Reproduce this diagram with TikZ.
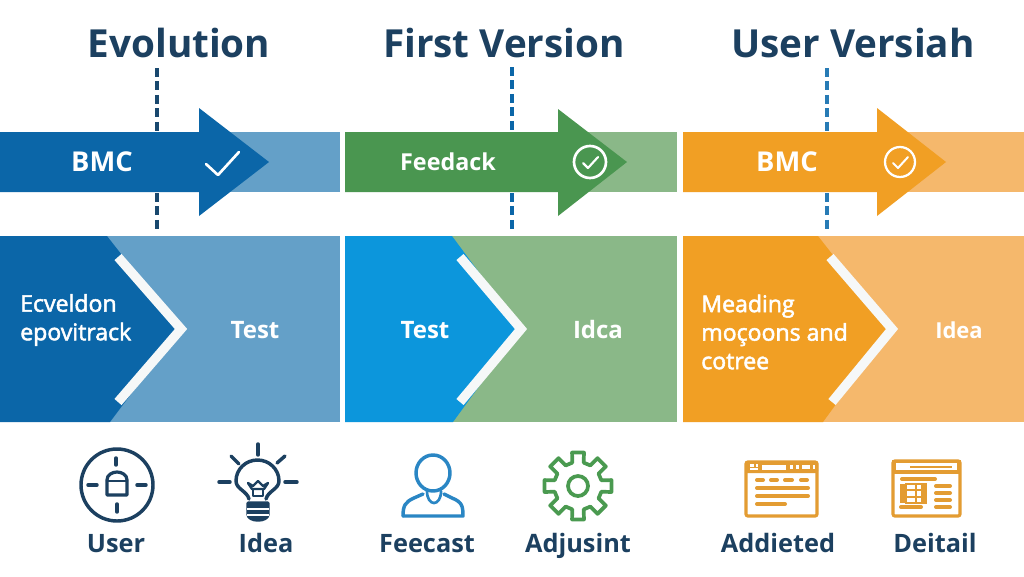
\documentclass[tikz,border=0pt]{standalone}
\usepackage{fontspec}
\setmainfont{Open Sans}
\newfontfamily\medfont[FakeBold=2.2]{Open Sans}
\definecolor{navy}{HTML}{1C4060}
\definecolor{bluedark}{HTML}{0B66A8}
\definecolor{bluelight}{HTML}{64A0C8}
\definecolor{bluebright}{HTML}{0C96DC}
\definecolor{greendark}{HTML}{4A9650}
\definecolor{greenlight}{HTML}{8AB888}
\definecolor{orangedark}{HTML}{F19F24}
\definecolor{orangelight}{HTML}{F5B86C}
\definecolor{iconblue}{HTML}{2A86C4}
\definecolor{icongreen}{HTML}{4A9A50}
\definecolor{iconorange}{HTML}{E39C32}
\definecolor{paper}{HTML}{F6F8F8}
\tikzset{
  px/.style={x=0.75pt,y=-0.75pt},
  title/.style={text=navy,font=\fontsize{29}{32}\selectfont\bfseries,inner sep=0pt,anchor=base},
  bandtext/.style={text=white,font=\fontsize{20.5}{24}\selectfont\bfseries,inner sep=0pt,anchor=base},
  paneltext/.style={text=white,font=\fontsize{18}{21}\selectfont\bfseries,inner sep=0pt,anchor=base},
  paneltextl/.style={text=white,font=\fontsize{17.3}{21.4}\selectfont\medfont,inner sep=0pt,anchor=west,align=left},
  caption/.style={text=navy,font=\fontsize{19}{22}\selectfont\bfseries,inner sep=0pt,anchor=base},
  guide/.style={line width=3pt,dash pattern=on 6.5pt off 3.6pt},
  chevron/.style={draw=paper,line width=7pt,miter limit=10},
  iconline/.style={draw=navy,line width=2.6pt,line cap=round,line join=round},
  tick/.style={draw=white,line width=2pt,line cap=round,line join=round},
}
\begin{document}
\begin{tikzpicture}[px]
\useasboundingbox (0,0) rectangle (1024,576);
\fill[white] (0,0) rectangle (1024,576);

% titles
\node[title] (t1) at (179,57) {Evolution};
\node[title] (t2) at (504,57) {First Version};
\node[title] (t3) at (853,57) {User Versiah};

% guides
\draw[guide,draw=navy!80!bluedark] (157,68) -- (157,131);
\draw[guide,draw=navy!80!bluedark] (157,193) -- (157,230);
\draw[guide,draw=bluedark] (512,67) -- (512,131);
\draw[guide,draw=bluedark] (512,193) -- (512,230);
\draw[guide,draw=iconblue!85!navy] (827,68) -- (827,131);
\draw[guide,draw=iconblue!85!navy] (827,193) -- (827,230);

% bands
\fill[bluelight] (0,132) rectangle (340,192);
\fill[bluedark] (0,132) -- (199,132) -- (199,108) -- (269,162) -- (199,216) -- (199,192) -- (0,192) -- cycle;
\fill[greenlight] (345,132) rectangle (677,192);
\fill[greendark] (345,132) -- (558,132) -- (558,109) -- (627,162) -- (558,216) -- (558,192) -- (345,192) -- cycle;
\fill[orangelight] (683,132) rectangle (1024,192);
\fill[orangedark] (683,132) -- (877,132) -- (877,108) -- (946,162) -- (877,216) -- (877,192) -- (683,192) -- cycle;

\node[bandtext] (b1) at (102,171) {BMC};
\node[bandtext,font=\fontsize{17.5}{20}\selectfont\bfseries] (b2) at (448,170) {Feedack};
\node[bandtext] (b3) at (787,171) {BMC};

% checks
\draw[tick] (206,164) -- (218,175) -- (239,152);
\draw[tick] (590,162) circle (16);
\draw[tick,line width=1.6pt] (583,163) -- (588,168) -- (598,157);
\draw[tick,line width=1.7pt] (900,162) circle (15);
\draw[tick,line width=1.5pt] (893,163) -- (898,168) -- (908,157);

% panels
\fill[bluelight] (0,236) rectangle (340,422);
\fill[bluedark] (0,236) -- (107,236) -- (180,329) -- (110,422) -- (0,422) -- cycle;
\draw[chevron] (118,257) -- (181,329) -- (118,402);

\fill[greenlight] (345,236) rectangle (677,422);
\fill[bluebright] (345,236) -- (452,236) -- (521,329) -- (453,422) -- (345,422) -- cycle;
\draw[chevron] (460,257) -- (521,329) -- (460,402);

\fill[orangelight] (683,236) rectangle (1024,422);
\fill[orangedark] (683,236) -- (818,236) -- (891,329) -- (823,422) -- (683,422) -- cycle;
\draw[chevron] (830,257) -- (892,329) -- (832,402);

\node[paneltextl] (p1) at (20,320) {Ecveldon\\epovitrack};
\node[paneltext] (p2) at (255,338) {Test};
\node[paneltext] (p3) at (425,338) {Test};
\node[paneltext] (p4) at (598,338) {Idca};
\node[paneltextl] (p5) at (701,332) {Meading\\moçoons and\\cotree};
\node[paneltext,font=\fontsize{16.5}{20}\selectfont\bfseries] (p6) at (959,338) {Idea};

% captions
\node[caption] (c1) at (116,552) {User};
\node[caption] (c2) at (266,552) {Idea};
\node[caption] (c3) at (427,552) {Feecast};
\node[caption] (c4) at (578,552) {Adjusint};
\node[caption] (c5) at (778,552) {Addieted};
\node[caption] (c6) at (935,552) {Deitail};

% icon: lock in circle
\draw[iconline] (117,485) circle (36);
\draw[iconline] (116,458) -- (116,465);
\draw[iconline] (117,504) -- (117,512);
\draw[iconline] (88,485) -- (97,485);
\draw[iconline] (137,485) -- (146,485);
\draw[iconline,line width=2.4pt] (107,495) -- (107,480) .. controls (107,475) and (112,472) .. (117,472) .. controls (122,472) and (127,475) .. (127,480) -- (127,495) -- cycle;
\draw[iconline,line width=2pt] (107,481) -- (127,481);

% icon: bulb
\draw[iconline] (249,499) .. controls (247,491) and (236,489) .. (236,481) .. controls (236,469) and (246,460) .. (257.5,460) .. controls (269,460) and (279,469) .. (279,481) .. controls (279,489) and (268,491) .. (266,499);
\draw[iconline,fill=navy] (248,503) -- (268,503) -- (268,514) .. controls (268,522) and (248,522) .. (248,514) -- cycle;
\draw[draw=white,line width=1.4pt] (247,509) -- (269,509);
\draw[draw=white,line width=1.4pt] (247,515) -- (269,515);
\draw[iconline,line width=1.8pt] (248,483) -- (252,489) -- (264,489) -- (268,483) -- (263,486) -- (258,481) -- (253,486) -- cycle;
\draw[iconline,line width=1.8pt] (253,489) -- (253,496) -- (263,496) -- (263,489);
\draw[iconline] (258,444) -- (258,455);
\draw[iconline] (231,456) -- (239,464);
\draw[iconline] (285,456) -- (277,463);
\draw[iconline] (219,482) -- (230,482);
\draw[iconline] (285,482) -- (297,482);

% icon: person
\draw[iconline,draw=iconblue] (433,473) ellipse (17 and 18);
\draw[iconline,draw=iconblue] (403,516) -- (463,516) .. controls (463,506) and (462,502) .. (452,498) -- (444,494);
\draw[iconline,draw=iconblue] (403,516) .. controls (403,506) and (405,502) .. (414,498) -- (423,494);
\draw[iconline,draw=iconblue,line width=2pt] (427,491) .. controls (427,507) and (441,507) .. (441,491);

% icon: gear
\begin{scope}[shift={(578,486)}]
\draw[draw=icongreen,line width=2.8pt,line join=round] (-14:24)
  \foreach \a in {0,45,...,315}{ -- ({\a-14}:24) -- ({\a-10}:34) -- ({\a+10}:34) -- ({\a+14}:24) } -- cycle;
\draw[draw=icongreen,line width=2.8pt] (0,0) circle (10);
\end{scope}

% icon: window 1
\draw[draw=iconorange,line width=2.4pt,rounded corners=1.5pt] (746,462) rectangle (817,516);
\fill[iconorange,rounded corners=1.5pt] (745,461) rectangle (818,473);
\fill[white] (750,464) rectangle (754,466.5);
\fill[white] (756,464) rectangle (758,466.5);
\fill[white] (750,468) rectangle (758,470);
\fill[white] (762,465) rectangle (786,470);
\fill[white] (790,465) rectangle (793,469);
\fill[white] (796,465) rectangle (799,469);
\fill[white] (802,465) rectangle (810,469);
\fill[white] (813,465) rectangle (815,469);
\foreach \xa/\xb in {757/763,771/777,785/792,801/807}{
  \draw[draw=iconorange,line width=3pt,line cap=round] (\xa,480) -- (\xb,480);}
\draw[draw=iconorange,line width=3pt,line cap=round] (757,488) -- (808,488);
\draw[draw=iconorange,line width=3pt,line cap=round] (757,496) -- (808,496);
\draw[draw=iconorange,line width=3pt,line cap=round] (757,504) -- (785,504);

% icon: window 2
\draw[draw=iconorange,line width=2.4pt,rounded corners=1.5pt] (893,461) rectangle (960,516);
\fill[iconorange] (892,460) rectangle (961,474);
\fill[white] (896,463) rectangle (957,470);
\draw[draw=iconorange,line width=1.6pt] (910,467) -- (952,467);
\draw[draw=iconorange,line width=3pt,line cap=round] (902,479) -- (935,479);
\fill[iconorange] (900,484) rectangle (906,503);
\draw[draw=iconorange,line width=1.6pt] (906,484) rectangle (926,503);
\draw[draw=iconorange,line width=1.6pt] (916,484) -- (916,503);
\draw[draw=iconorange,line width=1.6pt] (906,490) -- (926,490);
\draw[draw=iconorange,line width=1.6pt] (906,497) -- (926,497);
\fill[iconorange] (921,484) rectangle (926,503);
\draw[draw=iconorange,line width=3pt,line cap=round] (901,507) -- (921,507);
\foreach \yy in {486,493,500,507}{\draw[draw=iconorange,line width=3pt,line cap=round] (936,\yy) -- (950,\yy);}
\end{tikzpicture}
\end{document}
